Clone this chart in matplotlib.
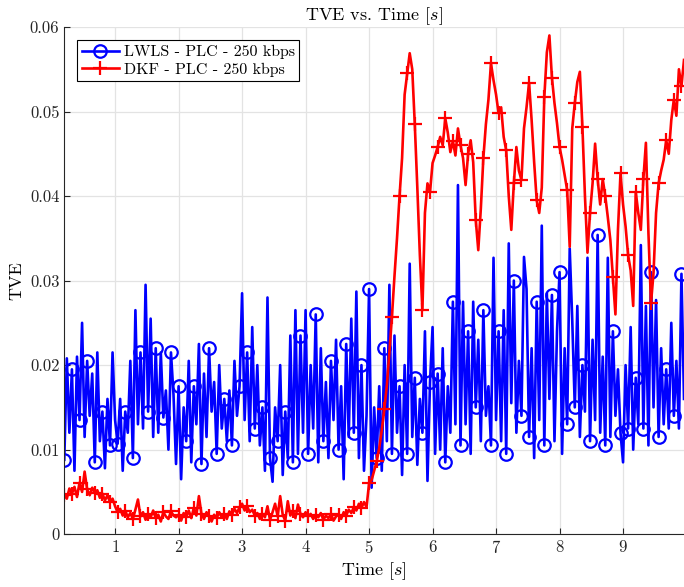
import numpy as np
import matplotlib
matplotlib.use("Agg")
import matplotlib.pyplot as plt

plt.rcParams['font.family'] = 'serif'
plt.rcParams['font.serif'] = ['cmr10', 'DejaVu Serif']
plt.rcParams['mathtext.fontset'] = 'cm'
plt.rcParams['axes.formatter.use_mathtext'] = True

# sampling grid: 0.2 s .. 9.96 s, 40 ms step
time = np.arange(245) * 0.04 + 0.2

# TVE values, in units of 1e-3
lwls_milli = [
    # 0.2 - 0.96
    8.8, 20.8, 12.0, 19.5, 7.5, 21.0, 13.5, 25.0, 11.5, 20.5,
    14.0, 19.0, 8.5, 21.5, 11.0, 14.5, 7.8, 16.0, 10.5, 21.5,
    # 1.0 - 1.96
    13.5, 10.7, 16.0, 7.5, 14.5, 12.0, 20.5, 9.0, 26.5, 13.0,
    21.5, 12.5, 29.5, 14.5, 25.5, 11.5, 22.0, 12.0, 21.5, 13.8,
    17.0, 10.0, 21.5, 16.5, 8.3,
    # 2.0 - 2.96
    17.5, 6.5, 15.0, 11.0, 20.5, 8.5, 17.5, 13.0, 22.5, 8.3,
    19.0, 11.5, 22.0, 14.5, 18.0, 9.5, 20.0, 12.5, 16.0, 11.0,
    17.0, 10.5, 20.5, 14.0, 17.5,
    # 3.0 - 3.96
    28.5, 13.5, 21.5, 11.0, 24.5, 12.5, 20.0, 10.5, 15.0, 7.5,
    28.0, 9.0, 6.2, 15.0, 11.0, 20.0, 7.0, 14.5, 9.0, 23.5,
    8.5, 26.5, 9.5, 23.5, 12.0,
    # 4.0 - 4.96
    26.5, 9.5, 20.0, 12.5, 26.0, 8.5, 22.0, 11.0, 18.0, 9.0,
    20.5, 13.5, 23.0, 10.0, 17.5, 6.5, 22.5, 11.5, 25.5, 12.0,
    28.7, 9.0, 20.0, 7.5, 14.0,
    # 5.0 - 5.96
    29.0, 5.5, 15.0, 9.0, 17.5, 7.5, 22.0, 11.0, 29.5, 9.5,
    23.5, 12.0, 17.5, 7.0, 20.0, 9.5, 32.0, 11.5, 18.5, 8.2,
    16.0, 12.0, 24.0, 6.3, 18.0,
    # 6.0 - 6.96
    24.5, 9.5, 19.0, 10.0, 22.0, 8.5, 17.5, 12.0, 27.5, 13.0,
    41.3, 10.5, 27.5, 13.0, 24.0, 9.5, 27.5, 15.0, 23.0, 11.0,
    26.5, 14.0, 17.5, 10.5, 32.7,
    # 7.0 - 7.96
    13.5, 24.0, 11.0, 26.5, 9.5, 34.4, 15.5, 30.0, 12.0, 20.5,
    14.0, 32.8, 29.0, 11.5, 22.0, 9.0, 27.5, 13.5, 36.5, 10.5,
    28.5, 16.0, 28.3, 11.0, 24.0,
    # 8.0 - 8.96
    31.0, 9.5, 22.0, 13.0, 33.8, 25.3, 15.0, 27.0, 11.5, 20.0,
    14.5, 32.7, 11.0, 23.0, 13.5, 35.4, 12.0, 21.0, 10.5, 32.7,
    11.5, 24.0, 14.0, 19.5, 12.0,
    # 9.0 - 9.96
    8.5, 20.0, 12.5, 24.5, 10.0, 18.5, 13.0, 34.2, 12.5, 27.0,
    10.5, 31.0, 15.0, 27.7, 11.5, 22.0, 13.0, 19.5, 12.5, 25.0,
    14.0, 20.5, 12.5, 30.8, 16.0,
]

dkf_milli = [
    # 0.2 - 0.96
    4.6, 4.2, 5.4, 4.8, 5.6, 4.4, 6.1, 5.0, 7.4, 5.3,
    4.6, 5.5, 4.9, 5.2, 4.3, 4.8, 4.0, 4.6, 3.8, 4.2,
    # 1.0 - 1.96
    3.3, 2.6, 3.0, 2.2, 2.8, 2.0, 2.5, 1.8, 2.9, 4.1,
    2.1, 2.6, 1.7, 2.4, 2.0, 2.8, 1.9, 2.3, 1.5, 2.6,
    2.1, 1.8, 2.7, 2.2, 2.0,
    # 2.0 - 2.96
    2.3, 1.6, 2.5, 2.0, 2.8, 1.9, 3.1, 2.2, 4.5, 2.4,
    1.8, 2.6, 2.1, 1.5, 2.3, 1.9, 2.6, 2.0, 2.4, 1.8,
    2.7, 2.3, 3.0, 2.5, 3.2,
    # 3.0 - 3.96
    3.6, 2.8, 3.3, 2.6, 2.9, 2.2, 2.5, 1.8, 2.4, 2.0,
    3.3, 1.7, 2.6, 3.6, 2.1, 4.5, 2.3, 1.6, 3.9, 2.2,
    2.8, 1.9, 3.5, 2.4, 2.0,
    # 4.0 - 4.96
    2.6, 2.1, 2.4, 1.8, 2.3, 2.0, 2.5, 1.7, 2.2, 1.9,
    2.4, 1.6, 2.1, 2.3, 1.8, 2.6, 2.2, 2.9, 2.5, 3.2,
    2.8, 3.6, 3.1, 3.8, 3.2,
    # 5.0 - 5.96
    6.0, 6.4, 7.5, 8.6, 10.2, 12.3, 14.8, 17.6, 21.5, 25.7,
    30.5, 35.0, 40.0, 44.5, 52.0, 54.5, 56.9, 55.0, 48.5, 41.0,
    33.0, 26.5, 38.0, 41.5, 40.5,
    # 6.0 - 6.96
    43.9, 44.8, 45.8, 47.0, 46.0, 49.2, 47.5, 45.2, 46.5, 44.8,
    48.0, 46.0, 44.5, 41.3, 45.0, 46.6, 44.0, 37.2, 33.6, 38.5,
    44.5, 48.5, 51.4, 55.7, 53.7,
    # 7.0 - 7.96
    52.0, 49.8, 50.5, 47.0, 45.4, 40.0, 36.0, 41.5, 45.8, 43.0,
    41.9, 48.0, 50.5, 53.4, 49.0, 44.0, 39.5, 38.0, 41.0, 51.7,
    57.0, 59.0, 54.0, 51.0, 48.6,
    # 8.0 - 8.96
    45.8, 44.3, 42.5, 40.7, 34.0, 48.0, 51.0, 53.5, 54.7, 48.2,
    40.0, 33.3, 38.0, 41.5, 46.2, 42.0, 39.0, 42.0, 40.0, 37.5,
    34.8, 30.4, 26.0, 36.0, 42.7,
    # 9.0 - 9.96
    39.0, 36.4, 33.0, 31.2, 27.0, 40.5, 38.0, 36.0, 42.0, 46.3,
    35.6, 27.3, 30.9, 38.0, 41.5, 43.0, 44.3, 46.6, 45.0, 49.0,
    51.4, 49.5, 55.0, 53.0, 56.1,
]

tve_lwls = np.array(lwls_milli) * 1e-3
tve_dkf = np.array(dkf_milli) * 1e-3

fig = plt.figure(figsize=(6.84, 5.87), dpi=100)
ax = fig.add_axes([0.094, 0.090, 0.906, 0.864])

ax.plot(time, tve_lwls, color='b', lw=1.9, marker='o', ms=9, mfc='none',
        mew=1.6, markevery=3, label='LWLS - PLC - 250 kbps')
ax.plot(time, tve_dkf, color='r', lw=1.9, marker='+', ms=10.5,
        mew=1.6, markevery=3, label='DKF - PLC - 250 kbps')

ax.set_xlim(0.2, 9.96)
ax.set_ylim(0, 0.06)
ax.set_xticks(range(1, 10))
ax.set_yticks([0, 0.01, 0.02, 0.03, 0.04, 0.05, 0.06])
ax.set_yticklabels(['0', '0.01', '0.02', '0.03', '0.04', '0.05', '0.06'])
ax.grid(True, color='#e3e3e3', lw=0.9)
ax.set_axisbelow(True)
ax.tick_params(direction='in', labelsize=12, colors='#262626', length=4)
for side in ['top', 'right']:
    ax.spines[side].set_visible(False)
for side in ['left', 'bottom']:
    ax.spines[side].set_color('#262626')

ax.set_title(r'TVE vs. Time $[s]$', fontsize=13, pad=5)
ax.set_xlabel(r'Time $[s]$', fontsize=13, labelpad=3)
ax.set_ylabel('TVE', fontsize=13)

leg = ax.legend(loc='upper left', fontsize=11.5, fancybox=False, framealpha=1,
                edgecolor='black', borderpad=0.3, handlelength=2.3,
                labelspacing=0.2, handletextpad=0.3, borderaxespad=0,
                bbox_to_anchor=(0.021, 0.974))
leg.get_frame().set_linewidth(0.8)

fig.savefig('out.png', dpi=100)
